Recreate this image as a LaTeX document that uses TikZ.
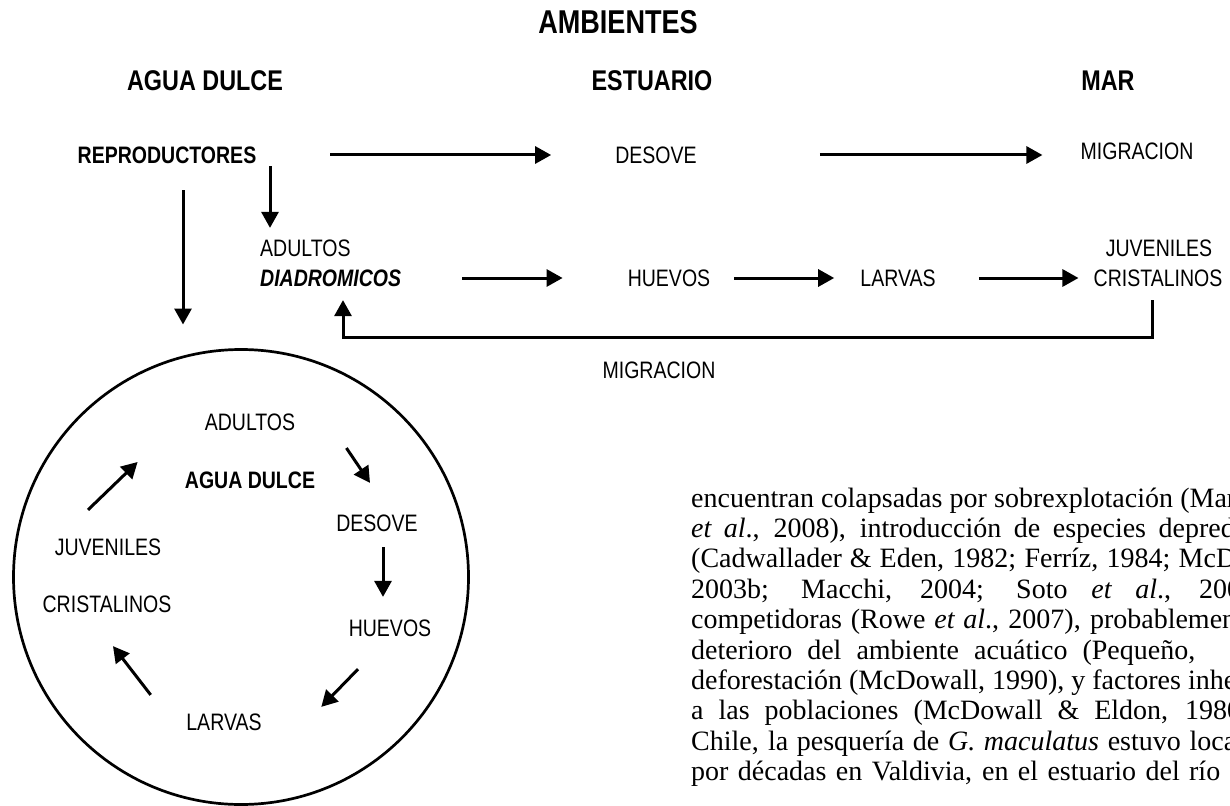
\documentclass[tikz,border=0pt]{standalone}
\usepackage{fontspec}
\setmainfont{Liberation Serif}
\newfontfamily\narrowsf[FakeStretch=0.82]{Liberation Sans}
\usetikzlibrary{arrows.meta}

\begin{document}
\begin{tikzpicture}[x=1pt,y=-1pt,>={Triangle[length=16pt,width=17pt]},
  lbl/.style={inner sep=0,font=\narrowsf\fontsize{23.8}{26}\selectfont},
  hdr/.style={inner sep=0,font=\narrowsf\bfseries\fontsize{28.5}{30}\selectfont},
  arr/.style={->,line width=3pt},
  txt/.style={inner sep=0,anchor=base west,font=\fontsize{28}{30}\selectfont}]
\clip (0,0) rectangle (1230,805);

\node[inner sep=0,font=\narrowsf\bfseries\fontsize{33}{36}\selectfont] (amb) at (618,22) {AMBIENTES};
\node[hdr] (hdulce) at (205,81) {AGUA DULCE};
\node[hdr] (hest) at (652,81) {ESTUARIO};
\node[hdr] (hmar) at (1108,81) {MAR};

\node[lbl] (repro) at (167,155) {\bfseries REPRODUCTORES};
\node[lbl] (desove) at (656,155) {DESOVE};
\node[lbl] (migr) at (1137,151) {MIGRACION};
\draw[arr,shorten <=74pt,shorten >=64pt] (repro.east) -- (desove.west);
\draw[arr,shorten <=123pt,shorten >=38pt] (desove.east) -- (desove.east -| migr.west);

\node[lbl,anchor=west] (adu) at (260,248) {ADULTOS};
\node[lbl,anchor=west] (diad) at (260,278) {\bfseries\itshape DIADROMICOS};
\node[lbl] (huevos) at (669,278) {HUEVOS};
\node[lbl] (larvas) at (898,278) {LARVAS};
\node[lbl] (juvm) at (1159,248) {JUVENILES};
\node[lbl] (crism) at (1158,278) {CRISTALINOS};
\node[lbl] (migrb) at (659,370) {MIGRACION};
\draw[arr] ([xshift=103pt,yshift=-2.5pt]repro.south) -- ([xshift=10pt,yshift=11.5pt]adu.north west);
\draw[arr,shorten <=61pt,shorten >=65pt] (diad.east) -- (huevos.west);
\draw[arr,shorten <=24pt,shorten >=26pt] (huevos.east) -- (larvas.west);
\draw[arr,shorten <=43pt,shorten >=15pt] (larvas.east) -- (crism.west);
\draw[arr] ([xshift=-6pt,yshift=-13.5pt]crism.south) -- ++(0,37) -| ([xshift=83pt,yshift=-13.5pt]diad.south west);

\node[draw,circle,line width=2.7pt,minimum size=455pt,inner sep=0,outer sep=0] (cyc) at (241,577) {};
\draw[arr] ([xshift=16pt,yshift=-26.5pt]repro.south) -- ([xshift=-58pt,yshift=25pt]cyc.north);

\node[lbl] (cadu) at (250,422) {ADULTOS};
\node[lbl] (cdulce) at (250,480) {\bfseries AGUA DULCE};
\node[lbl] (cdes) at (377,523) {DESOVE};
\node[lbl] (chue) at (390,628) {HUEVOS};
\node[lbl] (clar) at (224,722) {LARVAS};
\node[lbl] (cjuv) at (108,547) {JUVENILES};
\node[lbl] (ccris) at (107,604) {CRISTALINOS};
\draw[arr] ([xshift=-20pt,yshift=28.5pt]cjuv.north) -- ([xshift=-67pt,yshift=-40pt]cadu.west);
\draw[arr] ([xshift=51pt,yshift=-26pt]cadu.east) -- ([xshift=-7pt,yshift=31.5pt]cdes.north);
\draw[arr] ([xshift=6pt,yshift=-15.5pt]cdes.south) -- ([xshift=-7pt,yshift=22.5pt]chue.north);
\draw[arr] ([xshift=-32pt,yshift=-32.5pt]chue.south) -- ([xshift=59.5pt,yshift=6.5pt]clar.north east);
\draw[arr] ([xshift=-35.5pt,yshift=18.5pt]clar.north west) -- ([xshift=6pt,yshift=-33.5pt]ccris.south);

\node[txt] (l1) at (691,507) {\makebox[545pt][s]{encuentran colapsadas por sobrexplotación (Mar}};
\node[txt] (l2) at (691,537.4) {\makebox[556pt][s]{\textit{et al}., 2008), introducción de especies depreda}};
\node[txt] (l3) at (691,567.8) {\makebox[545pt][s]{(Cadwallader \& Eden, 1982; Ferríz, 1984; McD}};
\node[txt] (l4) at (691,598.2) {\makebox[550pt][s]{2003b; Macchi, 2004; Soto \textit{et al}., 200}};
\node[txt] (l5) at (691,628.6) {\makebox[545pt][s]{competidoras (Rowe \textit{et al}., 2007), probablemen}};
\node[txt] (l6) at (691,659) {\makebox[504pt][s]{deterioro del ambiente acuático (Pequeño,}};
\node[txt] (l7) at (691,689.4) {\makebox[545pt][s]{deforestación (McDowall, 1990), y factores inhe}};
\node[txt] (l8) at (691,719.8) {\makebox[550pt][s]{a las poblaciones (McDowall \& Eldon, 1980}};
\node[txt] (l9) at (691,750.2) {\makebox[545pt][s]{Chile, la pesquería de \textit{G. maculatus} estuvo loca}};
\node[txt] (l10) at (691,780.6) {\makebox[529pt][s]{por décadas en Valdivia, en el estuario del río}};
\end{tikzpicture}
\end{document}
